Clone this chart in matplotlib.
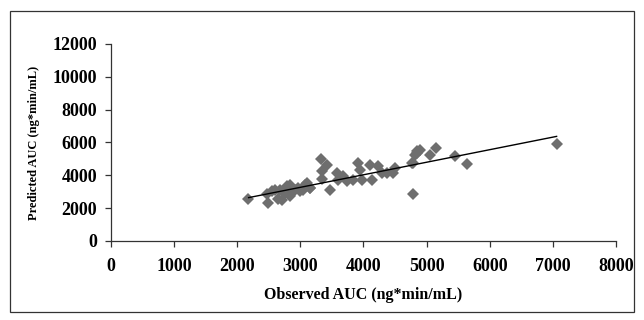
import matplotlib.pyplot as plt
from matplotlib.patches import Rectangle

# observed vs predicted AUC (ng*min/mL)
observed = [2175, 2480, 2466, 2545, 2598, 2677, 2703, 2650, 2756, 2809, 2782,
            2835, 2835, 2915, 2967, 2994, 3046, 3073, 3099, 3152, 3150, 3327,
            3337, 3416, 3337, 3470, 3575, 3601, 3680, 3733, 3839, 3918, 3943,
            3970, 4103, 4129, 4234, 4287, 4367, 4499, 4472, 4762, 4815, 4842,
            4789, 4842, 4895, 5053, 5148, 5449, 5634, 4789, 7070]
predicted = [2550, 2300, 2876, 3020, 3080, 3120, 2510, 2550, 2917, 3020, 3325,
             3427, 2713, 3120, 3223, 3020, 3120, 3427, 3529, 3223, 3220, 5020,
             4240, 4600, 3775, 3080, 4140, 3730, 3935, 3630, 3730, 4755, 4345,
             3730, 4650, 3730, 4550, 4140, 4140, 4450, 4140, 4755, 5265, 5470,
             4755, 5370, 5570, 5265, 5680, 5150, 4680, 2875, 5920]

# trend line end points
trend_x = [2180, 7060]
trend_y = [2640, 6370]

xticks = [0, 1000, 2000, 3000, 4000, 5000, 6000, 7000, 8000]
yticks = [0, 2000, 4000, 6000, 8000, 10000, 12000]

plt.rcParams['font.family'] = ['Liberation Serif', 'DejaVu Serif']

fig = plt.figure(figsize=(6.44, 3.2), dpi=100)
ax = fig.add_axes([0.1724, 0.247, 0.784, 0.6156])

ax.plot(observed, predicted, linestyle='none', marker='D', markersize=6,
        color='#6e6e6e', markeredgewidth=0)
ax.plot(trend_x, trend_y, color='black', linewidth=1)

ax.set_xlim(0, 8000)
ax.set_ylim(0, 12000)
ax.set_xticks(xticks)
ax.set_yticks(yticks)

ax.spines['right'].set_visible(False)
ax.spines['top'].set_visible(False)
for s in ('left', 'bottom'):
    ax.spines[s].set_color('#333333')
    ax.spines[s].set_linewidth(0.9)

ax.tick_params(axis='x', direction='out', length=4, width=0.9, pad=8.5,
               labelsize=13, colors='#333333', labelcolor='black')
ax.tick_params(axis='y', direction='out', length=4, width=0.9, pad=6,
               labelsize=13, colors='#333333', labelcolor='black')
for lab in ax.get_xticklabels() + ax.get_yticklabels():
    lab.set_fontweight('bold')

ax.set_xlabel('Observed AUC (ng*min/mL)', fontsize=11.5, fontweight='bold',
              labelpad=8.5)
ax.set_ylabel('Predicted AUC (ng*min/mL)', fontsize=9, fontweight='bold',
              labelpad=9)

# outer frame around the chart
fig.patches.append(Rectangle((0.016, 0.025), 0.968, 0.94, transform=fig.transFigure,
                             fill=False, edgecolor='#333333', linewidth=0.9))

plt.savefig('out.png', dpi=100)
